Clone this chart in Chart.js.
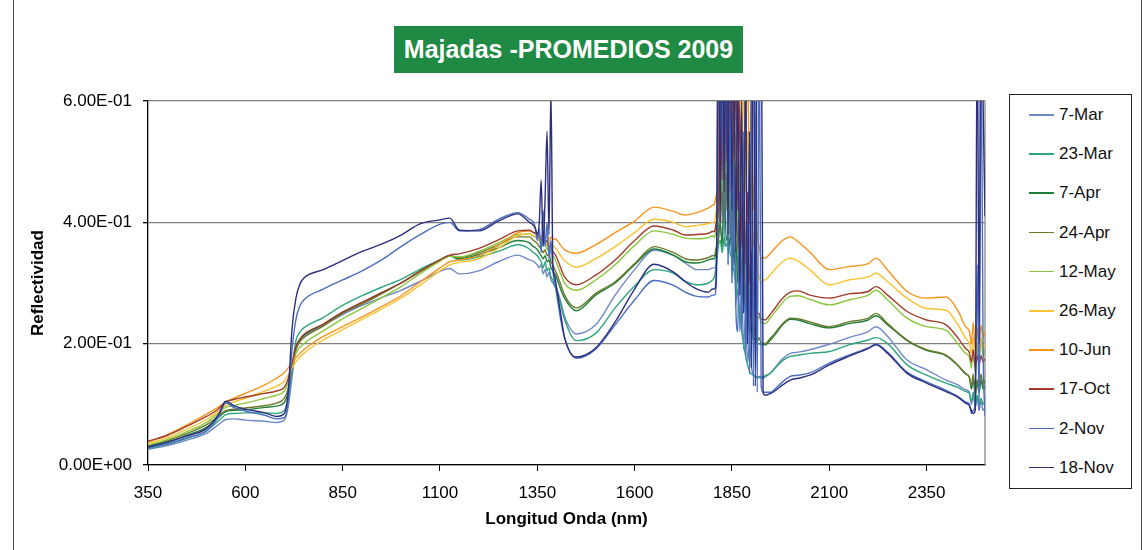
<!DOCTYPE html>
<html>
<head>
<meta charset="utf-8">
<script src="https://cdn.jsdelivr.net/npm/chart.js@4.4.1/dist/chart.umd.min.js"></script>
<style>
  html, body { margin: 0; padding: 0; background: #fff; }
  #wrap { position: relative; width: 1145px; height: 550px; overflow: hidden;
          font-family: "Liberation Sans", Arial, sans-serif; }
  #frame { position: absolute; left: 13px; top: -4px; width: 1127px; height: 570px;
           border-left: 1.5px solid #444; border-right: 1.5px solid #444; }
  #title { position: absolute; left: 394px; top: 26px; width: 349px; height: 47px;
           background: #1f8a43; color: #fff; font-weight: bold; font-size: 25px;
           line-height: 47px; text-align: center; white-space: nowrap; }
  #legend { position: absolute; left: 1009px; top: 94px; width: 121px; height: 393px;
            border: 1px solid #222; background: #fff; }
  .item { position: absolute; left: 0; height: 20px; line-height: 20px; font-size: 17px; color: #111; }
  .item span.sw { position: absolute; left: 19px; top: 9px; width: 25px; height: 1.6px; }
  .item span.tx { position: absolute; left: 49px; top: 0; white-space: nowrap; }
  canvas { position: absolute; left: 0; top: 0; }
</style>
</head>
<body>
<div id="wrap">
  <div id="frame"></div>
  <canvas id="chart" width="1145" height="550"></canvas>
  <div id="title">Majadas -PROMEDIOS 2009</div>
  <div id="legend"></div>
</div>
<script>
// wavelengths (nm)
const W = [
  350, 400, 450, 500, 530, 550, 570, 600, 650, 680,
  700, 710, 720, 730, 740, 750,
  800, 850, 900, 950, 1000, 1050, 1100, 1125, 1150, 1200, 1250, 1300, 1330,
  1340, 1345, 1350, 1355, 1360, 1365, 1370, 1375, 1380, 1385, 1390, 1395, 1400, 1410, 1420,
  1450, 1500, 1550, 1600, 1650, 1700, 1730, 1760, 1790, 1800,
  1805, 1810, 1815, 1820, 1825, 1830, 1835, 1840, 1845, 1850, 1855, 1860, 1865, 1870,
  1875, 1880, 1885, 1890, 1895, 1900, 1905, 1910, 1915, 1920, 1925, 1930, 1935,
  1950, 1960, 1980, 2000, 2020, 2050, 2100, 2150, 2200, 2220, 2250, 2300, 2350, 2400, 2430, 2450,
  2460, 2465, 2470, 2475, 2480, 2485, 2490, 2495, 2500
];

const SERIES = ['7-Mar', '23-Mar', '7-Apr', '24-Apr', '12-May', '26-May', '10-Jun', '17-Oct', '2-Nov', '18-Nov'];

const MAR07 = [
  .026,.032,.041,.052,.066,.075,.076,.074,.072,.070,
  .074,.095,.145,.190,.205,.212,
  .230,.248,.263,.276,.288,.303,.319,.324,.315,.320,.335,.346,.338,
  .336,.333,.33,.325,.33,.315,.322,.31,.318,.305,.30,.295,.29,.27,.245,
  .216,.231,.280,.322,.354,.345,.333,.322,.322,.325,
  .325,.34,.5,.38,.7,.36,.65,.33,.55,.3,.45,.26,.35,.22,.3,.19,.25,.17,.2,.16,.15,.145,.143,.144,.143,.143,.145,
  .152,.16,.175,.184,.186,.190,.199,.210,.220,.228,.212,.173,.157,.140,.132,.124,
  .12,.1,.115,.095,.11,.09,.105,.09,.095
];
const MAR23 = [
  .027,.034,.044,.056,.072,.083,.085,.086,.086,.085,
  .090,.110,.158,.205,.219,.226,
  .243,.263,.279,.293,.306,.323,.338,.345,.338,.343,.352,.363,.356,
  .35,.348,.345,.34,.335,.325,.335,.32,.325,.31,.305,.295,.288,.265,.24,
  .205,.217,.259,.295,.322,.316,.303,.297,.300,.305,
  .31,.33,.36,.37,.35,.375,.36,.37,.35,.34,.32,.3,.28,.25,.22,.2,.18,.165,.155,.15,.148,.146,.145,.146,.145,.146,.147,
  .152,.159,.172,.179,.181,.184,.187,.198,.206,.210,.200,.165,.148,.135,.128,.121,
  .118,.105,.12,.1,.115,.1,.11,.1,.105
];
const APR07 = [
  .030,.037,.049,.062,.078,.088,.090,.091,.095,.097,
  .103,.120,.160,.195,.207,.214,
  .232,.252,.268,.284,.300,.320,.338,.345,.340,.347,.358,.370,.366,
  .36,.358,.355,.35,.345,.34,.345,.335,.338,.325,.32,.315,.308,.29,.275,
  .254,.280,.300,.330,.356,.346,.335,.333,.338,.340,
  .34,.355,.37,.4,.36,.5,.37,.38,.36,.45,.33,.37,.3,.34,.27,.3,.25,.26,.22,.23,.205,.21,.2,.2,.198,.199,.198,
  .207,.214,.231,.240,.239,.233,.226,.233,.239,.246,.231,.205,.189,.180,.164,.150,
  .144,.125,.14,.115,.135,.12,.14,.125,.13
];
const APR24 = [
  .032,.040,.052,.066,.080,.090,.092,.094,.098,.102,
  .110,.126,.158,.190,.203,.210,
  .229,.250,.265,.282,.300,.319,.337,.345,.342,.350,.363,.376,.376,
  .370,.368,.365,.36,.356,.35,.355,.345,.348,.335,.33,.322,.315,.298,.28,
  .259,.283,.302,.332,.360,.350,.340,.338,.342,.345,
  .345,.36,.37,.55,.4,.7,.42,.6,.38,.75,.4,.5,.35,.45,.3,.4,.27,.33,.24,.26,.21,.23,.205,.21,.2,.201,.2,
  .21,.217,.233,.242,.241,.236,.228,.236,.242,.250,.233,.206,.190,.181,.165,.151,
  .145,.13,.15,.12,.14,.13,.15,.13,.14
];
const MAY12 = [
  .033,.042,.055,.070,.085,.095,.098,.102,.110,.115,
  .122,.136,.162,.184,.194,.200,
  .221,.241,.258,.276,.294,.316,.336,.344,.343,.352,.366,.380,.381,
  .377,.376,.374,.37,.366,.362,.365,.355,.36,.35,.345,.34,.332,.315,.30,
  .288,.305,.330,.362,.386,.380,.374,.373,.375,.378,
  .375,.39,.41,.6,.45,.8,.48,.65,.42,.7,.45,.55,.4,.5,.34,.45,.31,.38,.28,.3,.25,.27,.24,.245,.235,.234,.233,
  .244,.252,.268,.278,.279,.273,.264,.272,.280,.288,.272,.242,.228,.222,.200,.184,
  .178,.16,.19,.15,.2,.17,.21,.18,.19
];
const MAY26 = [
  .036,.045,.059,.075,.088,.098,.104,.110,.122,.130,
  .138,.148,.160,.170,.178,.184,
  .206,.223,.240,.257,.275,.297,.320,.330,.334,.340,.357,.378,.381,
  .378,.377,.376,.372,.37,.365,.37,.36,.368,.358,.362,.358,.355,.345,.337,
  .326,.340,.360,.383,.405,.400,.393,.395,.398,.400,
  .40,.42,.44,.7,.5,.85,.55,.95,.6,.8,.5,.75,.55,.9,.48,.65,.45,.55,.4,.48,.36,.4,.33,.31,.3,.305,.305,
  .315,.322,.335,.341,.336,.322,.297,.305,.310,.316,.302,.275,.258,.255,.232,.209,
  .2,.185,.21,.17,.2,.18,.21,.19,.2
];
const JUN10 = [
  .038,.050,.066,.084,.095,.104,.110,.118,.132,.143,
  .152,.160,.168,.177,.184,.190,
  .212,.228,.244,.261,.279,.302,.325,.335,.338,.345,.362,.383,.386,
  .384,.383,.383,.38,.376,.378,.372,.38,.37,.376,.372,.373,.371,.362,.355,
  .349,.363,.383,.402,.425,.418,.412,.416,.424,.428,
  .43,.445,.46,.8,.55,.95,.62,.85,.5,1.0,.58,.9,.52,.75,.6,.85,.5,.7,.45,.62,.42,.5,.38,.36,.34,.342,.341,
  .350,.357,.370,.376,.368,.351,.322,.327,.332,.341,.321,.286,.275,.277,.255,.228,
  .22,.2,.235,.19,.225,.2,.23,.21,.22
];
const OCT17 = [
  .039,.049,.064,.080,.092,.104,.108,.112,.118,.122,
  .128,.142,.168,.195,.207,.215,
  .232,.252,.268,.284,.300,.320,.338,.346,.348,.357,.371,.386,.387,
  .383,.382,.38,.376,.372,.37,.366,.37,.36,.362,.352,.348,.342,.325,.31,
  .297,.313,.338,.370,.394,.387,.379,.380,.382,.385,
  .385,.40,.42,.65,.47,.9,.5,.7,.45,.85,.5,.65,.42,.6,.36,.5,.33,.45,.3,.35,.27,.3,.25,.25,.24,.24,.239,
  .25,.258,.275,.285,.287,.280,.275,.282,.286,.294,.280,.253,.239,.231,.210,.192,
  .185,.17,.19,.16,.18,.165,.18,.17,.175
];
const NOV02 = [
  .028,.035,.045,.056,.078,.102,.095,.089,.082,.076,
  .078,.105,.19,.24,.262,.272,
  .290,.305,.320,.338,.360,.380,.397,.400,.386,.388,.405,.416,.405,
  .40,.39,.37,.39,.35,.42,.36,.40,.34,.37,.32,.30,.28,.24,.21,
  .176,.191,.231,.272,.304,.296,.285,.278,.277,.280,
  .28,.3,.85,.5,.65,.4,.9,.33,.6,.3,.5,.26,.22,.45,.22,.55,.18,.4,.15,.7,.13,.6,.12,.75,.13,.12,.12,
  .12,.125,.137,.146,.148,.152,.168,.181,.193,.199,.186,.153,.137,.123,.113,.104,
  .1,.085,.09,.1,.33,.09,.7,.2,.08
];
const NOV18 = [
  .030,.038,.048,.060,.082,.105,.098,.092,.086,.080,
  .085,.12,.225,.275,.298,.308,
  .322,.337,.352,.364,.379,.398,.404,.407,.387,.386,.402,.414,.40,
  .395,.39,.38,.40,.47,.36,.44,.55,.38,.62,.33,.31,.29,.25,.21,
  .178,.193,.236,.290,.331,.318,.302,.290,.285,.290,
  .29,.32,.75,.4,.9,.45,.8,.38,.95,.42,.7,.35,.65,.28,.6,.25,.7,.2,.55,.16,.9,.13,.8,.7,.85,.12,.115,
  .118,.122,.132,.140,.143,.148,.165,.179,.192,.198,.184,.151,.135,.121,.112,.102,
  .098,.09,.085,.09,.75,.2,.9,.6,.41
];

const VALUES = [MAR07, MAR23, APR07, APR24, MAY12, MAY26, JUN10, OCT17, NOV02, NOV18];
const XTICKS = [350, 600, 850, 1100, 1350, 1600, 1850, 2100, 2350];
const YTICKS = [0, 0.2, 0.4, 0.6];

const COLORS = ['#6f88c9', '#2ea57c', '#1e7d3b', '#6d7a2c', '#8cc63f', '#f8c230', '#f7941d', '#a13c2b', '#4a6fc1', '#2c2f7f'];
const FONT = '"Liberation Sans", Arial, sans-serif';

function sci(v) {
  if (v === 0) return '0.00E+00';
  const e = Math.floor(Math.log10(Math.abs(v)) + 1e-9);
  const m = v / Math.pow(10, e);
  return m.toFixed(2) + 'E' + (e < 0 ? '-' : '+') + String(Math.abs(e)).padStart(2, '0');
}

// legend
const leg = document.getElementById('legend');
SERIES.forEach((name, i) => {
  const it = document.createElement('div');
  it.className = 'item';
  it.style.top = (115 + 39.2 * i - 95 - 10) + 'px';
  it.innerHTML = '<span class="sw" style="background:' + COLORS[i] + '"></span><span class="tx">' + name + '</span>';
  leg.appendChild(it);
});

const plotBorder = {
  id: 'plotBorder',
  beforeDatasetsDraw(chart) {
    const { ctx, chartArea: a } = chart;
    ctx.save();
    ctx.strokeStyle = '#8a8a8a';
    ctx.lineWidth = 1.3;
    ctx.beginPath();
    ctx.moveTo(a.right, a.top);
    ctx.lineTo(a.right, a.bottom);
    ctx.stroke();
    ctx.restore();
  }
};

new Chart(document.getElementById('chart'), {
  type: 'line',
  data: {
    datasets: SERIES.map((name, i) => ({
      label: name,
      data: W.map((w, k) => ({ x: w, y: VALUES[i][k] })),
      borderColor: COLORS[i],
      backgroundColor: COLORS[i],
      borderWidth: 1.4,
      pointRadius: 0,
      cubicInterpolationMode: 'monotone',
      order: SERIES.length - i
    }))
  },
  options: {
    responsive: false,
    animation: false,
    layout: { padding: { left: 0, top: 101, right: 160, bottom: 0 } },
    plugins: { legend: { display: false }, tooltip: { enabled: false } },
    scales: {
      x: {
        type: 'linear', min: 350, max: 2500,
        afterBuildTicks: s => { s.ticks = XTICKS.map(v => ({ value: v })); },
        afterFit: s => { s.height = 85; },
        grid: { drawOnChartArea: false, drawTicks: true, tickLength: 6, color: '#000', tickColor: '#000' },
        border: { color: '#000', width: 1.3 },
        ticks: { color: '#000', font: { size: 17, family: FONT }, padding: 12, maxRotation: 0, autoSkip: false,
                 callback: v => String(v) },
        title: { display: true, text: 'Longitud Onda (nm)', color: '#000',
                 font: { size: 17, weight: 'bold', family: FONT }, padding: { bottom: 20 } }
      },
      y: {
        min: 0, max: 0.6,
        afterBuildTicks: s => { s.ticks = YTICKS.map(v => ({ value: v })); },
        afterFit: s => { s.width = 148; },
        grid: { color: '#808080', lineWidth: 1.3, tickLength: 5, tickColor: '#000', drawTicks: true },
        border: { color: '#000', width: 1.3 },
        ticks: { color: '#000', font: { size: 17, family: FONT }, padding: 11, callback: v => sci(v) },
        title: { display: true, text: 'Reflectividad', color: '#000',
                 font: { size: 17, weight: 'bold', family: FONT }, padding: { top: 28 } }
      }
    }
  },
  plugins: [plotBorder]
});
</script>
</body>
</html>
